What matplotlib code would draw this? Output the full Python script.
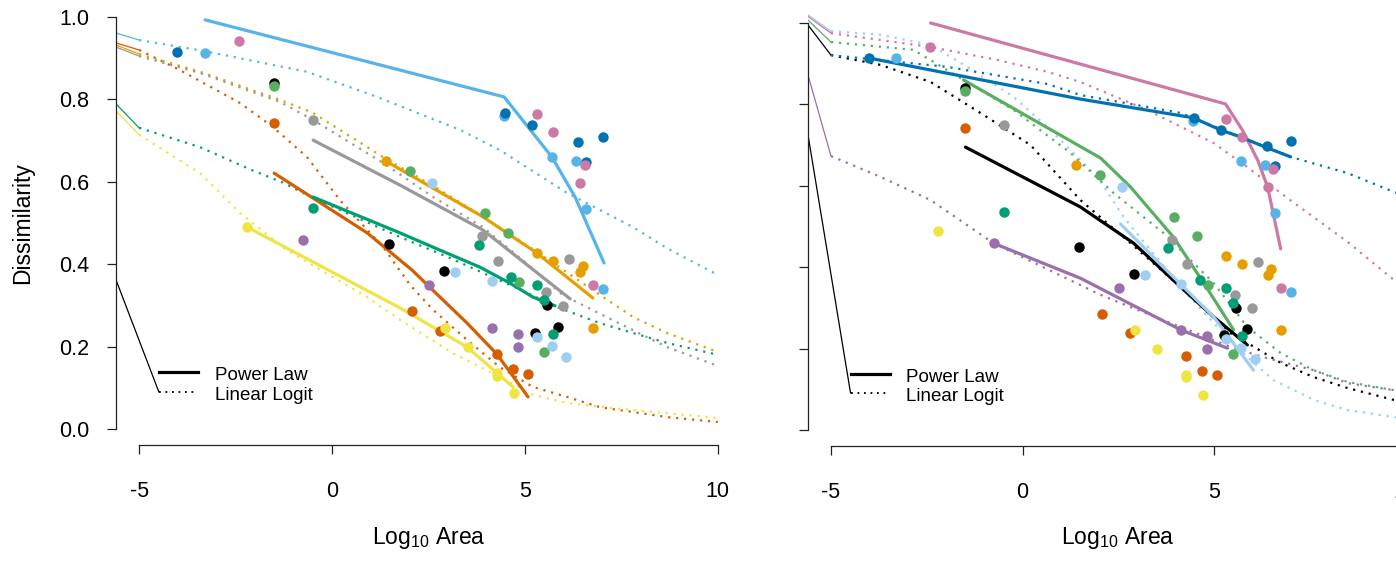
import matplotlib.pyplot as plt
from matplotlib.ticker import FormatStrFormatter

plt.rcParams['font.family'] = ['Liberation Sans', 'DejaVu Sans']
plt.rcParams['mathtext.fontset'] = 'custom'
plt.rcParams['mathtext.rm'] = 'Liberation Sans'
plt.rcParams['axes.unicode_minus'] = False

colours = {
    'black': '#000000', 'orange': '#E69F00', 'sky': '#56B4E9',
    'bgreen': '#009E73', 'yellow': '#F0E442', 'blue': '#0072B2',
    'vermillion': '#D55E00', 'pink': '#CC79A7', 'gray': '#999999',
    'purple': '#9970AB', 'green': '#5AAE61', 'lightblue': '#9ECFF2',
}

# observed sites (same in both panels)
point_area = {
    'black': [-1.50, 1.48, 2.91, 5.57, 5.25, 5.85],
    'green': [-1.50, 2.02, 3.96, 4.56, 4.84, 5.49],
    'gray': [-0.49, 3.89, 4.30, 6.14, 5.54, 5.98],
    'bgreen': [-0.49, 3.81, 4.64, 5.31, 5.49, 5.73],
    'orange': [1.40, 5.31, 5.73, 6.50, 6.42, 6.76],
    'lightblue': [2.59, 3.19, 4.15, 5.31, 5.70, 6.06],
    'purple': [-0.75, 2.51, 4.15, 4.82, 4.82],
    'vermillion': [-1.50, 2.07, 2.80, 4.27, 4.69, 5.08],
    'yellow': [-2.20, 2.93, 3.52, 4.27, 4.27, 4.72],
    'sky': [-3.29, 4.46, 5.70, 6.32, 6.58, 7.02],
    'blue': [-4.02, 4.48, 5.18, 6.37, 7.02, 6.58],
    'pink': [-2.41, 5.31, 5.73, 6.55, 6.42, 6.76],
}
point_dissim = {
    'black': [0.840, 0.450, 0.383, 0.300, 0.234, 0.247],
    'green': [0.833, 0.626, 0.524, 0.476, 0.357, 0.187],
    'gray': [0.750, 0.468, 0.408, 0.412, 0.332, 0.299],
    'bgreen': [0.536, 0.447, 0.369, 0.350, 0.313, 0.231],
    'orange': [0.650, 0.427, 0.408, 0.396, 0.381, 0.245],
    'lightblue': [0.597, 0.381, 0.359, 0.223, 0.201, 0.175],
    'purple': [0.459, 0.350, 0.245, 0.231, 0.199],
    'vermillion': [0.743, 0.286, 0.238, 0.182, 0.146, 0.134],
    'yellow': [0.490, 0.245, 0.199, 0.136, 0.129, 0.087],
    'sky': [0.913, 0.760, 0.660, 0.650, 0.534, 0.340],
    'blue': [0.915, 0.767, 0.738, 0.697, 0.709, 0.648],
    'pink': [0.942, 0.764, 0.721, 0.641, 0.597, 0.350],
}

# fitted curves, left panel
left_power = {
    'sky': ([-3.29, 4.46, 5.70, 6.30, 7.05], [0.993, 0.806, 0.660, 0.563, 0.403]),
    'orange': ([1.40, 3.91, 5.31, 6.76], [0.650, 0.515, 0.427, 0.318]),
    'gray': ([-0.49, 1.76, 3.91, 6.17], [0.701, 0.592, 0.483, 0.316]),
    'vermillion': ([-1.50, 0.91, 2.07, 2.80, 3.50, 4.27, 5.08],
                   [0.621, 0.476, 0.386, 0.320, 0.257, 0.182, 0.078]),
    'bgreen': ([-0.49, 1.76, 2.80, 3.83, 4.61, 5.21, 5.78],
               [0.563, 0.476, 0.434, 0.393, 0.354, 0.320, 0.299]),
    'yellow': ([-2.20, 1.76, 3.50, 4.69], [0.490, 0.294, 0.199, 0.102]),
}
left_logit = {
    'sky': ([-5.6, -5.0, -3.29, -0.65, 1.17, 3.32, 4.35, 6.09, 7.80, 8.68, 10.0],
            [0.961, 0.944, 0.917, 0.867, 0.806, 0.726, 0.677, 0.573, 0.490, 0.439, 0.374]),
    'vermillion': ([-5.6, -5.0, -3.94, -2.38, -1.53, -0.65, 0.21, 1.32, 2.02, 2.62, 3.50,
                    4.35, 5.21, 6.09, 6.94, 8.68, 10.0],
                   [0.937, 0.920, 0.871, 0.791, 0.733, 0.660, 0.555, 0.442, 0.350, 0.289, 0.216,
                    0.150, 0.102, 0.078, 0.053, 0.029, 0.017]),
    'orange': ([-5.6, -5.0, -3.42, -1.35, -0.49, 1.32, 2.80, 3.91, 5.31, 6.76, 7.80, 8.68, 10.0],
               [0.932, 0.910, 0.867, 0.799, 0.767, 0.660, 0.580, 0.515, 0.430, 0.337, 0.272,
                0.233, 0.187]),
    'gray': ([-5.6, -5.0, -3.42, -1.35, -0.49, 1.32, 2.62, 3.91, 5.13, 5.98, 6.94, 7.80, 8.68, 10.0],
             [0.927, 0.905, 0.864, 0.794, 0.750, 0.646, 0.563, 0.490, 0.395, 0.325, 0.280,
              0.240, 0.199, 0.153]),
    'bgreen': ([-5.6, -5.0, -3.42, -2.12, -1.27, -0.49, 1.76, 3.06, 3.91, 4.79, 5.83, 6.94,
                7.80, 8.68, 10.0],
               [0.789, 0.731, 0.684, 0.630, 0.598, 0.561, 0.466, 0.415, 0.379, 0.342, 0.296,
                0.257, 0.233, 0.209, 0.180]),
    'yellow': ([-5.6, -5.0, -3.42, -2.38, -1.17, 0.91, 1.76, 3.13, 4.35, 5.21, 6.09, 7.80, 10.0],
               [0.772, 0.714, 0.621, 0.524, 0.434, 0.320, 0.265, 0.184, 0.126, 0.083, 0.063,
                0.046, 0.027]),
}

# fitted curves, right panel
right_power = {
    'pink': ([-2.40, 5.30, 5.74, 6.14, 6.40, 6.74], [1.000, 0.801, 0.737, 0.663, 0.597, 0.445]),
    'blue': ([-4.02, 1.51, 4.46, 5.17, 5.69, 6.34, 7.00],
             [0.914, 0.813, 0.767, 0.737, 0.720, 0.695, 0.671]),
    'green': ([-1.54, 2.04, 2.82, 3.94, 4.73, 5.51], [0.860, 0.668, 0.597, 0.474, 0.361, 0.246]),
    'black': ([-1.49, 1.51, 2.90, 4.13, 4.99, 5.87], [0.695, 0.548, 0.459, 0.351, 0.278, 0.209]),
    'lightblue': ([2.56, 3.68, 4.99, 6.03], [0.506, 0.400, 0.278, 0.147]),
    'purple': ([-0.76, 1.51, 4.13, 5.35], [0.459, 0.373, 0.246, 0.201]),
}
right_logit = {
    'lightblue': ([-5.6, -5.0, -3.71, -2.40, -1.44, -0.23, 0.65, 1.96, 2.64, 4.13, 4.99, 5.87,
                   6.55, 7.60, 8.49, 9.69, 10.0],
                  [1.020, 0.980, 0.971, 0.946, 0.892, 0.818, 0.744, 0.622, 0.523, 0.351, 0.263,
                   0.179, 0.123, 0.074, 0.049, 0.032, 0.028]),
    'pink': ([-5.6, -5.0, -2.40, -0.65, 0.65, 1.51, 3.26, 4.99, 5.87, 6.74, 7.60, 8.49, 9.69, 10.0],
             [1.016, 0.975, 0.941, 0.909, 0.880, 0.855, 0.786, 0.705, 0.646, 0.582, 0.523, 0.462,
              0.369, 0.350]),
    'green': ([-5.6, -5.0, -2.85, -1.54, -0.23, 1.25, 2.38, 3.68, 4.99, 5.87, 6.74, 7.60, 8.49,
               9.69, 10.0],
              [1.007, 0.953, 0.934, 0.860, 0.786, 0.681, 0.582, 0.484, 0.361, 0.253, 0.189,
               0.147, 0.118, 0.098, 0.094]),
    'black': ([-5.6, -5.0, -3.71, -2.40, -1.10, 0.21, 1.51, 2.82, 4.13, 5.43, 5.87, 6.74, 7.60,
               8.49, 9.69, 10.0],
              [0.995, 0.921, 0.897, 0.855, 0.779, 0.700, 0.565, 0.459, 0.351, 0.238, 0.214,
               0.165, 0.130, 0.103, 0.074, 0.068]),
    'blue': ([-5.0, -1.96, 0.65, 1.51, 4.13, 7.00, 8.49, 9.69, 10.0],
             [0.921, 0.892, 0.850, 0.823, 0.779, 0.671, 0.631, 0.585, 0.575]),
    'purple': ([-5.6, -5.0, -3.71, -2.40, -0.76, 1.07, 2.04, 2.82, 4.13, 5.43, 6.29, 7.60, 8.49,
                9.69, 10.0],
               [0.872, 0.673, 0.622, 0.565, 0.459, 0.376, 0.332, 0.302, 0.253, 0.204, 0.179,
                0.147, 0.115, 0.098, 0.094]),
}

# stray black segment running into the key
left_leader = ([-5.6, -4.49], [0.362, 0.090])
right_leader = ([-5.6, -4.49], [0.725, 0.091])

key_labels = ['Power Law', 'Linear Logit']
DOTS = (0, (1, 2.6))


def draw_panel(ax, power, logit, leader, key_y):
    for name, (x, y) in logit.items():
        n = sum(v <= -5 for v in x)
        if n > 1:
            ax.plot(x[:n], y[:n], color=colours[name], lw=0.9)
        ax.plot(x[n - 1:], y[n - 1:], color=colours[name], lw=1.6, ls=DOTS)
    for name, (x, y) in power.items():
        ax.plot(x, y, color=colours[name], lw=2.3, solid_capstyle='round')
    for name in point_area:
        ax.plot(point_area[name], point_dissim[name], 'o', ms=7.5,
                color=colours[name], mec='none', zorder=3)
    ax.plot(leader[0], leader[1], color='black', lw=0.9)

    # key
    for lab, ls, lw, yk in zip(key_labels, ['-', DOTS], [2.3, 1.3], key_y):
        ax.plot([-4.49, -3.47], [yk, yk], color='black', ls=ls, lw=lw)
        ax.text(-3.03, yk - 0.009, lab, fontsize=13.5, va='center', ha='left')

    ax.set_xlim(-5.6, 10.6)
    ax.set_ylim(-0.04, 1.04)
    for side in ['top', 'right']:
        ax.spines[side].set_visible(False)
    for side in ['left', 'bottom']:
        ax.spines[side].set_linewidth(0.9)
        ax.spines[side].set_color('#222222')
    ax.spines['left'].set_bounds(0, 1)
    ax.spines['bottom'].set_bounds(-5, 10)
    ax.set_xticks([-5, 0, 5, 10])
    ax.set_yticks([0, 0.2, 0.4, 0.6, 0.8, 1.0])
    ax.yaxis.set_major_formatter(FormatStrFormatter('%.1f'))
    ax.tick_params(direction='out', length=6.5, width=0.9, color='#222222', labelsize=15.5)
    ax.tick_params(axis='x', pad=19)
    ax.tick_params(axis='y', pad=13)
    ax.set_xlabel('Log$_{10}$ Area', fontsize=16.5, va='center')
    ax.xaxis.set_label_coords(0.5, -0.208)


fig = plt.figure(figsize=(13.96, 5.61), dpi=100)
ax1 = fig.add_axes([0.0831, 0.2059, 0.4477, 0.7932])
ax2 = fig.add_axes([0.5788, 0.2045, 0.4445, 0.7836])

draw_panel(ax1, left_power, left_logit, left_leader, [0.138, 0.090])
draw_panel(ax2, right_power, right_logit, right_leader, [0.138, 0.091])

ax1.set_ylabel('Dissimilarity', fontsize=16.5, va='center')
ax1.yaxis.set_label_coords(-0.149, 0.5)
ax2.tick_params(axis='y', labelleft=False)

fig.savefig('out.png', dpi=100)
